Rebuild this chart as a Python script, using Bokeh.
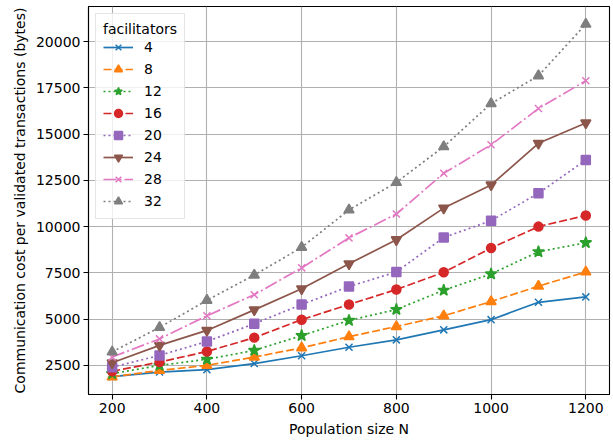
from bokeh.plotting import figure
from bokeh.models import Range1d, FixedTicker, Legend
from bokeh.embed import file_html
from bokeh.resources import INLINE

# ---- data ----
population = [200, 300, 400, 500, 600, 700, 800, 900, 1000, 1100, 1200]
facilitators = ["4", "8", "12", "16", "20", "24", "28", "32"]

cost_4 = [1890, 2140, 2270, 2600, 3020, 3480, 3880, 4420, 4970, 5910, 6200]
cost_8 = [1880, 2230, 2500, 2950, 3450, 4050, 4600, 5180, 5950, 6780, 7550]
cost_12 = [2050, 2500, 2830, 3310, 4110, 4930, 5520, 6560, 7440, 8640, 9130]
cost_16 = [2180, 2680, 3250, 4000, 4970, 5790, 6600, 7530, 8840, 10000, 10600]
cost_20 = [2400, 3040, 3790, 4750, 5790, 6760, 7550, 9410, 10320, 11800, 13600]
cost_24 = [2640, 3580, 4390, 5500, 6640, 7990, 9290, 11000, 12250, 14500, 15600]
cost_28 = [2950, 3930, 5180, 6320, 7770, 9390, 10680, 12880, 14420, 16380, 17880]
cost_32 = [3230, 4550, 6020, 7380, 8880, 10900, 12390, 14320, 16650, 18150, 20940]

x_ticks = [200, 400, 600, 800, 1000, 1200]
y_ticks = [2500, 5000, 7500, 10000, 12500, 15000, 17500, 20000]

series = [cost_4, cost_8, cost_12, cost_16, cost_20, cost_24, cost_28, cost_32]
colors = ["#1f77b4", "#ff7f0e", "#2ca02c", "#d62728",
          "#9467bd", "#8c564b", "#e377c2", "#7f7f7f"]
markers = ["x", "triangle", "star", "circle", "square",
           "inverted_triangle", "x", "triangle"]
dashes = ["solid", "8 3", "2 3", "8 3", "2 3", "solid", "13 3 2 3", "2 3"]
msizes = [10, 10, 12, 9, 9, 10, 10, 10]

all_vals = [v for s in series for v in s]
lo, hi = min(all_vals), max(all_vals)
span = hi - lo
xlo, xhi = min(population), max(population)
xspan = xhi - xlo

FONT = "DejaVu Sans"

p = figure(width=613, height=443, output_backend="svg", toolbar_location=None,
           x_range=Range1d(xlo - 0.05 * xspan, xhi + 0.05 * xspan),
           y_range=Range1d(lo - 0.05 * span, hi + 0.05 * span),
           min_border_left=88, min_border_right=4, min_border_top=6,
           min_border_bottom=49)

p.xaxis.ticker = FixedTicker(ticks=x_ticks)
p.yaxis.ticker = FixedTicker(ticks=y_ticks)
p.xaxis.axis_label = "Population size N"
p.yaxis.axis_label = "Communication cost per validated transactions (bytes)"
for ax in (p.xaxis[0], p.yaxis[0]):
    ax.axis_label_text_font = FONT
    ax.axis_label_text_font_size = "14px"
    ax.axis_label_text_font_style = "normal"
    ax.axis_label_text_color = "black"
    ax.major_label_text_font = FONT
    ax.major_label_text_font_size = "14px"
    ax.major_label_text_color = "black"
    ax.axis_line_color = "black"
    ax.axis_line_width = 1.1
    ax.major_tick_line_color = "black"
    ax.major_tick_line_width = 1.1
    ax.major_tick_out = 5
    ax.major_tick_in = 0
    ax.minor_tick_line_color = None
    ax.major_label_standoff = 3
    ax.axis_label_standoff = 5

p.grid.grid_line_color = "#b0b0b0"
p.grid.grid_line_width = 1.1
p.outline_line_color = "black"
p.outline_line_width = 1.1
p.background_fill_color = "white"
p.border_fill_color = "white"

items = []
for name, vals, c, m, d, ms in zip(facilitators, series, colors, markers, dashes, msizes):
    r1 = p.line(population, vals, line_color=c, line_width=1.7, line_dash=d)
    r2 = p.scatter(population, vals, marker=m, size=ms, fill_color=c,
                   line_color=c, line_width=1.5)
    items.append((name, [r1, r2]))

legend = Legend(items=items, location="top_left")
legend.title = "facilitators"
legend.title_text_font = FONT
legend.title_text_font_size = "14px"
legend.title_text_font_style = "normal"
legend.title_text_color = "black"
legend.title_standoff = 0
legend.label_text_font = FONT
legend.label_text_font_size = "14px"
legend.label_text_color = "black"
legend.label_height = 20
legend.glyph_height = 20
legend.glyph_width = 30
legend.label_standoff = 11
legend.spacing = 2
legend.padding = 7
legend.margin = 7
legend.border_line_color = "#cccccc"
legend.border_line_width = 1
legend.background_fill_alpha = 0.8
p.add_layout(legend)

open("out.html", "w").write(file_html(p, INLINE))
